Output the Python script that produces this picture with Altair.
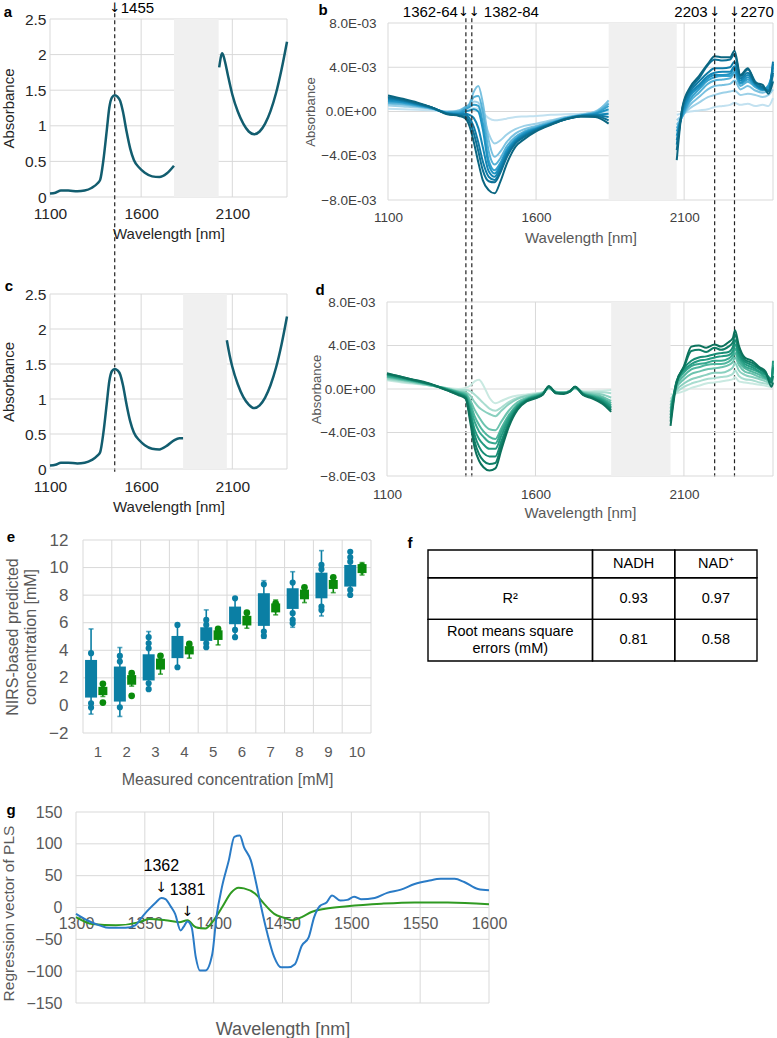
import altair as alt
import pandas as pd

W, H = 777, 1038
FONT = "Liberation Sans"
ARROW_FONT = "DejaVu Sans"
GRID = "#d9d9d9"
SHADE = "#f0f0f0"
INK = "#262626"
MUTED = "#595959"

# ---------------------------------------------------------------- a : NADH absorbance
a_nm_1 = [1100, 1130, 1160, 1200, 1250, 1290, 1330, 1360, 1375, 1393, 1412, 1425, 1440, 1455,
          1470, 1485, 1500, 1520, 1540, 1560, 1590, 1620, 1660, 1700, 1740, 1780]
a_abs_1 = [0.05, 0.06, 0.09, 0.09, 0.08, 0.09, 0.13, 0.19, 0.24, 0.52, 0.95, 1.25, 1.40, 1.43,
           1.41, 1.35, 1.20, 0.92, 0.68, 0.52, 0.41, 0.34, 0.29, 0.28, 0.33, 0.44]
a_nm_2 = [2028, 2045, 2060, 2075, 2100, 2130, 2160, 2190, 2220, 2250, 2280, 2310, 2340, 2370, 2400]
a_abs_2 = [1.82, 2.02, 1.90, 1.72, 1.44, 1.20, 1.03, 0.92, 0.88, 0.92, 1.03, 1.21, 1.46, 1.79, 2.18]
a_masked = [1780, 2025]

# ---------------------------------------------------------------- c : NAD+ absorbance
c_nm_1 = [1100, 1130, 1160, 1200, 1250, 1290, 1330, 1360, 1375, 1393, 1412, 1425, 1440, 1455,
          1470, 1485, 1500, 1520, 1540, 1560, 1590, 1620, 1660, 1700, 1740, 1780, 1810, 1830]
c_abs_1 = [0.05, 0.06, 0.09, 0.09, 0.08, 0.09, 0.13, 0.19, 0.24, 0.52, 0.95, 1.25, 1.40, 1.43,
           1.41, 1.35, 1.20, 0.92, 0.68, 0.52, 0.41, 0.34, 0.29, 0.28, 0.33, 0.41, 0.44, 0.44]
c_nm_2 = [2070, 2085, 2100, 2130, 2160, 2190, 2220, 2250, 2280, 2310, 2340, 2370, 2400]
c_abs_2 = [1.84, 1.63, 1.46, 1.21, 1.03, 0.92, 0.87, 0.91, 1.02, 1.20, 1.45, 1.78, 2.18]
c_masked = [1830, 2070]

# ---------------------------------------------------------------- b : NADH difference spectra (x1E-03), 1..10 mM per row
b_nm_1 = [1100, 1150, 1200, 1250, 1300, 1340, 1360, 1375, 1390, 1405, 1420, 1440, 1460, 1480,
          1500, 1530, 1560, 1600, 1650, 1700, 1750, 1800, 1845]
b_rows_1 = [
    [0.25, 0.55, 0.7, 0.8, 0.9, 1.0, 1.1, 1.2, 1.3, 1.45],
    [0.2, 0.45, 0.6, 0.7, 0.8, 0.85, 0.95, 1.0, 1.05, 1.15],
    [0.15, 0.35, 0.45, 0.5, 0.55, 0.6, 0.65, 0.7, 0.72, 0.8],
    [0.1, 0.2, 0.25, 0.25, 0.3, 0.3, 0.3, 0.35, 0.35, 0.35],
    [0.0, 0.0, -0.05, -0.1, -0.1, -0.15, -0.15, -0.2, -0.2, -0.25],
    [0.05, 0.1, 0.1, 0.0, -0.1, -0.2, -0.25, -0.3, -0.35, -0.4],
    [0.1, 0.3, 0.4, 0.35, 0.2, 0.0, -0.2, -0.3, -0.45, -0.6],
    [0.2, 0.5, 0.7, 0.6, 0.4, 0.1, -0.3, -0.6, -0.9, -1.3],
    [0.3, 0.9, 1.8, 1.3, 0.6, 0.2, -0.6, -1.4, -2.0, -2.8],
    [0.25, 0.8, 2.3, 1.4, 0.5, 0.0, -1.5, -2.8, -3.6, -4.6],
    [-0.1, -0.3, 0.8, 0.0, -1.0, -1.6, -3.2, -4.5, -5.3, -6.2],
    [-0.6, -2.0, -2.6, -3.6, -4.4, -4.8, -5.4, -5.9, -6.3, -7.1],
    [-0.8, -2.9, -4.1, -4.8, -5.3, -5.6, -5.9, -6.2, -6.4, -7.4],
    [-0.75, -2.6, -3.6, -4.2, -4.6, -4.8, -5.0, -5.3, -5.5, -6.3],
    [-0.65, -2.1, -2.8, -3.2, -3.5, -3.6, -3.8, -4.0, -4.2, -4.8],
    [-0.5, -1.6, -2.0, -2.3, -2.5, -2.6, -2.7, -2.8, -2.9, -3.2],
    [-0.45, -1.3, -1.6, -1.8, -1.9, -2.0, -2.1, -2.2, -2.3, -2.5],
    [-0.4, -1.1, -1.3, -1.4, -1.5, -1.55, -1.6, -1.65, -1.7, -1.8],
    [-0.3, -0.8, -0.9, -1.0, -1.05, -1.1, -1.1, -1.15, -1.15, -1.2],
    [-0.25, -0.5, -0.55, -0.6, -0.6, -0.65, -0.65, -0.7, -0.7, -0.7],
    [-0.2, -0.3, -0.3, -0.35, -0.35, -0.4, -0.4, -0.4, -0.45, -0.45],
    [-0.1, 0.0, -0.05, -0.1, -0.15, -0.2, -0.3, -0.35, -0.4, -0.5],
    [0.0, 0.8, 1.0, 0.7, 0.5, 0.2, -0.2, -0.5, -0.8, -1.1],
]
b_nm_2 = [2075, 2095, 2120, 2150, 2180, 2203, 2230, 2255, 2270, 2290, 2315, 2340, 2365, 2385, 2400]
b_rows_2 = [
    [-0.3, -0.8, -1.2, -1.5, -1.8, -2.2, -2.6, -3.0, -3.5, -4.4],
    [-0.15, -0.3, -0.4, -0.4, -0.3, -0.1, 0.1, 0.3, 0.4, 0.5],
    [0.0, 0.3, 0.6, 0.9, 1.1, 1.4, 1.6, 1.8, 2.0, 2.2],
    [0.1, 0.8, 1.3, 1.7, 2.0, 2.2, 2.4, 2.7, 3.0, 3.2],
    [0.2, 1.3, 2.0, 2.5, 2.8, 3.0, 3.2, 3.5, 4.2, 4.3],
    [0.4, 1.5, 2.3, 2.8, 3.1, 3.3, 3.5, 3.9, 4.7, 5.0],
    [0.5, 1.7, 2.4, 2.9, 3.2, 3.3, 3.6, 3.9, 4.6, 4.9],
    [0.6, 1.8, 2.5, 3.0, 3.2, 3.4, 3.6, 4.0, 4.7, 4.9],
    [0.8, 1.9, 2.8, 3.4, 3.6, 3.9, 4.1, 4.5, 5.2, 5.5],
    [0.6, 1.5, 2.0, 2.3, 2.5, 2.6, 2.8, 3.0, 3.2, 3.3],
    [0.7, 1.6, 2.3, 2.7, 2.9, 3.1, 3.3, 3.5, 3.8, 3.9],
    [0.5, 1.5, 1.9, 2.2, 2.3, 2.4, 2.5, 2.5, 2.7, 2.6],
    [0.6, 1.3, 1.7, 1.9, 2.0, 2.0, 2.0, 2.1, 2.2, 2.4],
    [0.5, 1.5, 2.0, 2.3, 2.4, 2.2, 2.0, 1.9, 1.8, 1.6],
    [1.2, 2.0, 2.8, 3.3, 3.7, 4.0, 4.3, 4.5, 3.5, 2.7],
]
b_masked = [1845, 2075]
b_colors = ["#c2e1f0", "#9dd1e8", "#79c1e0", "#55b1d7", "#35a1cd", "#1f93c2",
            "#1486b5", "#0f7ba6", "#0c7196", "#0b6681"]

# ---------------------------------------------------------------- d : NAD+ difference spectra (x1E-03), 1..10 mM per row
d_nm_1 = [1100, 1150, 1200, 1250, 1300, 1340, 1365, 1380, 1395, 1410, 1425, 1445, 1465, 1485,
          1510, 1540, 1570, 1600, 1625, 1645, 1670, 1695, 1715, 1733, 1760, 1790, 1825, 1855]
d_rows_1 = [
    [0.8, 0.9, 1.0, 1.1, 1.15, 1.2, 1.3, 1.35, 1.4, 1.45],
    [0.6, 0.7, 0.8, 0.85, 0.9, 0.95, 1.0, 1.05, 1.1, 1.1],
    [0.45, 0.5, 0.55, 0.6, 0.65, 0.7, 0.7, 0.75, 0.75, 0.8],
    [0.3, 0.3, 0.3, 0.35, 0.35, 0.4, 0.4, 0.4, 0.4, 0.45],
    [0.1, 0.1, 0.05, 0.05, 0.0, 0.0, -0.05, -0.05, -0.1, -0.1],
    [0.0, -0.1, -0.2, -0.25, -0.3, -0.35, -0.4, -0.45, -0.5, -0.55],
    [0.1, -0.1, -0.3, -0.4, -0.5, -0.6, -0.7, -0.75, -0.8, -0.9],
    [0.3, -0.2, -0.6, -1.0, -1.3, -1.6, -2.0, -2.3, -2.6, -3.0],
    [0.7, -0.5, -1.2, -1.9, -2.5, -3.0, -3.7, -4.2, -4.8, -5.4],
    [0.85, -0.9, -1.7, -2.6, -3.3, -3.9, -4.6, -5.3, -6.0, -6.6],
    [0.3, -1.3, -2.0, -3.2, -3.9, -4.4, -5.1, -5.9, -6.6, -7.2],
    [-0.8, -1.8, -2.3, -3.7, -4.4, -4.9, -5.5, -6.2, -6.9, -7.5],
    [-1.3, -2.0, -2.5, -3.8, -4.6, -5.0, -5.5, -6.2, -6.8, -7.3],
    [-1.1, -1.7, -2.0, -3.0, -3.6, -3.9, -4.3, -4.8, -5.2, -5.6],
    [-0.8, -1.2, -1.4, -2.0, -2.4, -2.6, -2.8, -3.1, -3.3, -3.5],
    [-0.6, -0.8, -0.9, -1.2, -1.4, -1.5, -1.6, -1.7, -1.8, -1.9],
    [-0.5, -0.6, -0.65, -0.8, -0.9, -0.95, -1.0, -1.05, -1.1, -1.15],
    [-0.4, -0.45, -0.5, -0.55, -0.6, -0.65, -0.7, -0.75, -0.8, -0.85],
    [-0.3, -0.3, -0.35, -0.35, -0.4, -0.4, -0.45, -0.45, -0.5, -0.5],
    [0.0, 0.05, 0.1, 0.1, 0.15, 0.15, 0.2, 0.2, 0.25, 0.25],
    [-0.25, -0.25, -0.3, -0.3, -0.3, -0.35, -0.35, -0.35, -0.4, -0.4],
    [-0.3, -0.3, -0.3, -0.35, -0.35, -0.35, -0.4, -0.4, -0.4, -0.45],
    [-0.2, -0.2, -0.2, -0.2, -0.2, -0.2, -0.25, -0.25, -0.25, -0.25],
    [0.0, 0.05, 0.1, 0.1, 0.15, 0.15, 0.15, 0.2, 0.2, 0.2],
    [-0.2, -0.25, -0.3, -0.35, -0.4, -0.4, -0.45, -0.5, -0.5, -0.55],
    [-0.2, -0.3, -0.4, -0.5, -0.6, -0.65, -0.7, -0.75, -0.8, -0.85],
    [-0.15, -0.3, -0.5, -0.7, -0.85, -0.95, -1.05, -1.15, -1.25, -1.35],
    [-0.1, -0.4, -0.8, -1.1, -1.3, -1.5, -1.65, -1.8, -1.95, -2.1],
]
d_nm_2 = [2055, 2075, 2100, 2125, 2150, 2175, 2203, 2225, 2250, 2265, 2272, 2285, 2305, 2330,
          2355, 2375, 2395, 2400]
d_rows_2 = [
    [-0.5, -0.9, -1.2, -1.5, -1.8, -2.1, -2.4, -2.7, -3.0, -3.4],
    [-0.4, -0.3, -0.1, 0.1, 0.3, 0.5, 0.6, 0.7, 0.6, 0.5],
    [-0.2, 0.2, 0.5, 0.9, 1.2, 1.5, 1.7, 1.9, 2.0, 2.1],
    [0.1, 0.5, 0.9, 1.4, 1.8, 2.1, 2.3, 2.6, 3.5, 3.9],
    [0.3, 0.7, 1.1, 1.6, 2.0, 2.3, 2.6, 2.9, 3.6, 4.0],
    [0.5, 0.9, 1.3, 1.8, 2.2, 2.4, 2.7, 3.0, 3.4, 3.8],
    [0.6, 1.0, 1.5, 1.9, 2.3, 2.6, 2.9, 3.2, 3.8, 4.1],
    [0.7, 1.1, 1.5, 2.0, 2.3, 2.6, 3.0, 3.3, 3.6, 3.9],
    [0.8, 1.2, 1.7, 2.2, 2.5, 2.8, 3.1, 3.4, 3.9, 4.3],
    [0.9, 1.4, 2.0, 2.5, 2.9, 3.2, 3.5, 3.9, 4.3, 4.7],
    [1.1, 1.7, 2.4, 2.9, 3.3, 3.7, 4.1, 4.5, 5.0, 5.4],
    [0.7, 1.2, 1.7, 2.2, 2.5, 2.8, 3.1, 3.4, 3.8, 4.0],
    [0.6, 0.9, 1.3, 1.6, 1.9, 2.1, 2.3, 2.5, 2.7, 2.9],
    [0.5, 0.8, 1.1, 1.4, 1.6, 1.8, 2.0, 2.2, 2.4, 2.6],
    [0.4, 0.6, 0.9, 1.1, 1.3, 1.5, 1.6, 1.8, 1.9, 2.0],
    [0.3, 0.5, 0.7, 0.9, 1.0, 1.1, 1.3, 1.4, 1.5, 1.6],
    [0.2, 0.4, 0.5, 0.6, 0.7, 0.8, 0.9, 0.9, 0.6, 0.2],
    [0.5, 0.9, 1.2, 1.6, 1.9, 2.2, 2.6, 2.0, 1.2, 0.6],
]
d_masked = [1855, 2055]
d_colors = ["#c9e9e1", "#a9ddd0", "#8ad0bf", "#6bc3ae", "#4fb69e", "#37a88f",
            "#249b81", "#178d74", "#107f67", "#0c725c"]

# ---------------------------------------------------------------- e : predicted vs measured (mM)
e_conc = [1, 2, 3, 4, 5, 6, 7, 8, 9, 10]
nadh_q1 = [0.57, 0.28, 1.81, 3.43, 4.68, 5.89, 5.77, 7.00, 7.77, 8.62]
nadh_q3 = [3.30, 2.82, 3.71, 5.04, 5.67, 7.17, 8.14, 8.50, 9.63, 10.19]
nadh_lo = [-0.63, -0.80, 1.13, 2.77, 4.15, 4.95, 4.87, 5.67, 6.49, 8.01]
nadh_hi = [5.55, 4.20, 5.36, 5.84, 6.93, 7.77, 9.05, 9.70, 11.23, 11.15]
nadh_pts = [[3.79, 0.16, -0.15], [3.59, 3.18, -0.13], [4.95, 4.51, 4.15, 1.61, 1.18],
            [5.84, 2.77], [6.2, 5.84, 4.51, 4.22], [7.77, 5.48, 4.95], [8.79, 5.36, 5.04],
            [8.91, 6.69, 6.2, 5.96], [10.19, 9.87, 7.17, 6.93], [11.15, 10.74, 10.43, 8.38, 8.01]]
nad_q1 = [0.75, 1.50, 2.60, 3.70, 4.75, 5.80, 6.75, 7.70, 8.45, 9.60]
nad_q3 = [1.35, 2.20, 3.40, 4.30, 5.45, 6.50, 7.40, 8.40, 9.10, 10.25]
nad_lo = [0.65, 1.40, 2.27, 3.43, 4.39, 5.60, 6.57, 7.46, 8.18, 9.46]
nad_hi = [1.55, 2.34, 3.71, 4.46, 5.55, 6.73, 7.65, 8.57, 9.29, 10.36]
nad_pts = [[1.57, 1.1, 0.21], [2.34, 1.9, 0.70], [3.6, 3.0], [4.46, 4.0], [5.55, 5.1],
           [6.73, 6.2], [7.4, 7.0], [8.57, 8.1], [9.29, 8.8], [10.1, 9.8]]

# ---------------------------------------------------------------- f : model statistics
f_rows = ["", "R²", "Root means square\nerrors (mM)"]
f_nadh = ["NADH", "0.93", "0.81"]
f_nad = ["NAD⁺", "0.97", "0.58"]

# ---------------------------------------------------------------- g : PLS regression vectors
g_nm_nadh = [1300, 1308, 1317, 1324, 1336, 1343, 1348, 1352, 1358, 1362, 1365, 1369, 1372, 1376,
             1378, 1381, 1384, 1387, 1390, 1394, 1399, 1402, 1406, 1411, 1415, 1419, 1422, 1427,
             1431, 1434, 1439, 1444, 1449, 1454, 1459, 1464, 1469, 1473, 1477, 1482, 1486, 1492,
             1497, 1502, 1507, 1517, 1526, 1536, 1546, 1556, 1565, 1575, 1582, 1592, 1600]
g_nadh = [-10, -20, -28, -32, -32, -28, -15, -5, 8, 15, 13, 1, -10, -36, -31, -22, -31, -78,
          -99, -99, -73, -15, 32, 74, 111, 113, 95, 74, 37, 6, -41, -78, -94, -94, -89, -60,
          -47, -15, 2, 8, 19, 11, 12, 17, 13, 15, 23, 28, 37, 42, 45, 45, 40, 29, 27]
g_nm_nad = [1300, 1312, 1329, 1346, 1353, 1365, 1375, 1381, 1387, 1394, 1399, 1406, 1413, 1418,
            1422, 1430, 1437, 1444, 1451, 1457, 1464, 1471, 1481, 1497, 1522, 1546, 1570, 1600]
g_nad = [-15, -26, -28, -23, -18, -20, -23, -20, -31, -33, -23, 0, 24, 31, 30, 22, 5, -10,
         -16, -20, -15, -7, -2, 2, 6, 8, 8, 5]


# ================================================================ helpers
def axis(**kw):
    base = dict(grid=False, ticks=False, domain=False, labelOverlap=False, labelFlush=False,
                labelFont=FONT, titleFont=FONT, titleFontWeight="normal")
    base.update(kw)
    return alt.Axis(**base)


def lin(domain, rng):
    return alt.Scale(domain=domain, range=rng, nice=False, zero=False)


def grid_frame(x_ticks, y_ticks, xb, yb):
    rows = [dict(x=xb[0], x2=xb[1], y=v, y2=v) for v in y_ticks]
    rows += [dict(x=v, x2=v, y=yb[0], y2=yb[1]) for v in x_ticks]
    return pd.DataFrame(rows)


def spectra_frame(parts):
    recs = []
    for seg, (nms, rows) in enumerate(parts):
        for nm, row in zip(nms, rows):
            for k, v in enumerate(row, start=1):
                recs.append({"nm": nm, "v": v, "conc": k, "seg": f"{k}-{seg}"})
    return pd.DataFrame(recs).sort_values(["conc", "seg", "nm"])


def single_frame(parts):
    recs = []
    for seg, (nms, vals) in enumerate(parts):
        recs += [{"nm": n, "v": v, "seg": seg} for n, v in zip(nms, vals)]
    return pd.DataFrame(recs)


def spectrum_panel(lines, xs, ys, ax_x, ax_y, xb, yb, x_ticks, y_ticks, masked,
                   line_mark, color=None, dashes=None, notes=(), note_y=None):
    X = lambda f: alt.X(f, type="quantitative", scale=xs, axis=ax_x)
    Y = lambda f: alt.Y(f, type="quantitative", scale=ys, axis=ax_y)
    layers = [
        alt.Chart(grid_frame(x_ticks, y_ticks, xb, yb)).mark_rule(color=GRID, strokeWidth=1)
        .encode(x=X("x"), x2="x2", y=Y("y"), y2="y2"),
        alt.Chart(pd.DataFrame([dict(x=masked[0], x2=masked[1], y=yb[0], y2=yb[1])]))
        .mark_rect(color=SHADE).encode(x=X("x"), x2="x2", y=Y("y"), y2="y2"),
    ]
    enc = dict(x=X("nm"), y=Y("v"), detail="seg:N")
    if color is not None:
        enc["color"] = color
    layers.append(alt.Chart(lines).mark_line(**line_mark).encode(**enc))
    if dashes is not None:
        layers.append(
            alt.Chart(pd.DataFrame({"x": dashes[0], "y": dashes[1], "y2": dashes[2]}))
            .mark_rule(color="#222222", strokeWidth=1.2, strokeDash=[4, 3])
            .encode(x=X("x"), y=Y("y"), y2="y2"))
    for text, nm, align, dx in notes:
        arrow = "↓" in text
        layers.append(
            alt.Chart(pd.DataFrame({"x": [nm], "y": [note_y], "t": [text]}))
            .mark_text(align=align, dx=dx, baseline="middle",
                       font=ARROW_FONT if arrow else FONT, fontSize=13 if arrow else 15,
                       color="black")
            .encode(x=X("x"), y=Y("y"), text="t:N"))
    return alt.layer(*layers)


# ================================================================ panel a
xs_a = lin([1100, 2400], [50, 287])
ys_a = lin([0, 2.5], [197, 19])
ax_a_x = axis(orient="bottom", offset=197 - H, values=[1100, 1600, 2100], format="d",
              title="Wavelength [nm]", labelFontSize=15.5, titleFontSize=15, labelColor=INK,
              titleColor=INK, labelPadding=9, titlePadding=5)
ax_a_y = axis(orient="left", offset=-50, values=[0, 0.5, 1, 1.5, 2, 2.5], format="~g",
              title="Absorbance", labelFontSize=15.5, titleFontSize=15, labelColor=INK,
              titleColor=INK, labelPadding=4, titlePadding=8)
panel_a = spectrum_panel(
    single_frame([(a_nm_1, a_abs_1), (a_nm_2, a_abs_2)]), xs_a, ys_a, ax_a_x, ax_a_y,
    [1100, 2400], [0, 2.5], [1100, 1600, 2100, 2400], [0, 0.5, 1, 1.5, 2, 2.5], a_masked,
    dict(color="#125d6f", strokeWidth=2.5, interpolate="monotone"),
    dashes=([1455], [2.58], [-3.86]),
    notes=[("↓", 1455, "center", 0), ("1455", 1455, "left", 6)], note_y=2.65)

# ================================================================ panel c
xs_c = lin([1100, 2400], [50, 287])
ys_c = lin([0, 2.5], [469, 294])
ax_c_x = axis(orient="bottom", offset=469 - H, values=[1100, 1600, 2100], format="d",
              title="Wavelength [nm]", labelFontSize=15.5, titleFontSize=15, labelColor=INK,
              titleColor=INK, labelPadding=10, titlePadding=5)
ax_c_y = axis(orient="left", offset=-50, values=[0, 0.5, 1, 1.5, 2, 2.5], format="~g",
              title="Absorbance", labelFontSize=15.5, titleFontSize=15, labelColor=INK,
              titleColor=INK, labelPadding=4, titlePadding=8)
panel_c = spectrum_panel(
    single_frame([(c_nm_1, c_abs_1), (c_nm_2, c_abs_2)]), xs_c, ys_c, ax_c_x, ax_c_y,
    [1100, 2400], [0, 2.5], [1100, 1600, 2100, 2400], [0, 0.5, 1, 1.5, 2, 2.5], c_masked,
    dict(color="#125d6f", strokeWidth=2.5, interpolate="monotone"))

# ================================================================ panels b, d
E_LABEL = "datum.value == 0 ? '0.0E+00' : format(datum.value, '.1f') + 'E-03'"
diff_ticks = [-8, -4, 0, 4, 8]


def diff_axes(bottom, left, pad_x, title_pad_x, title_pad_y):
    ax_x = axis(orient="bottom", offset=bottom - H, values=[1100, 1600, 2100], format="d",
                title="Wavelength [nm]", labelFontSize=13.5, titleFontSize=15,
                labelColor="#404040", titleColor=MUTED, labelPadding=pad_x,
                titlePadding=title_pad_x)
    ax_y = axis(orient="left", offset=-left, values=diff_ticks, labelExpr=E_LABEL,
                title="Absorbance", labelFontSize=13.5, titleFontSize=13, labelColor="#404040",
                titleColor=MUTED, labelPadding=12, titlePadding=title_pad_y)
    return ax_x, ax_y


xs_b = lin([1100, 2400], [388, 773])
ys_b = lin([-8, 8], [200, 23])
ax_b_x, ax_b_y = diff_axes(200, 388, 10, 7, 3)
panel_b = spectrum_panel(
    spectra_frame([(b_nm_1, b_rows_1), (b_nm_2, b_rows_2)]), xs_b, ys_b, ax_b_x, ax_b_y,
    [1100, 2400], [-8, 8], [1100, 1600, 2100, 2400], diff_ticks, b_masked,
    dict(strokeWidth=2, interpolate="monotone"),
    color=alt.Color("conc:O", scale=alt.Scale(domain=e_conc, range=b_colors), legend=None),
    dashes=([1363, 1383, 2203, 2270], [8.42] * 4, [-33.0] * 4),
    notes=[("↓↓", 1373, "center", 0),
           ("1362-64", 1363, "right", -8), ("1382-84", 1383, "left", 12),
           ("2203", 2203, "right", -7), ("↓", 2203, "center", 0),
           ("↓", 2270, "center", 0), ("2270", 2270, "left", 6)],
    note_y=8.96)

xs_d = lin([1100, 2400], [387, 773])
ys_d = lin([-8, 8], [476, 302])
ax_d_x, ax_d_y = diff_axes(476, 387, 11, 5, -4)
panel_d = spectrum_panel(
    spectra_frame([(d_nm_1, d_rows_1), (d_nm_2, d_rows_2)]), xs_d, ys_d, ax_d_x, ax_d_y,
    [1100, 2400], [-8, 8], [1100, 1600, 2100, 2400], diff_ticks, d_masked,
    dict(strokeWidth=2, interpolate="monotone"),
    color=alt.Color("conc:O", scale=alt.Scale(domain=e_conc, range=d_colors), legend=None))

# ================================================================ panel e
xs_e = lin([0.5, 10.5], [78, 376])
ys_e = lin([-2, 12], [733, 540])
ax_e_x = axis(orient="bottom", offset=733 - H, values=e_conc, format="d",
              title="Measured concentration [mM]", labelFontSize=15, titleFontSize=16,
              labelColor=MUTED, titleColor=MUTED, labelPadding=11, titlePadding=12)
ax_e_y = axis(orient="left", offset=-78, values=list(range(-2, 13, 2)), format="d",
              title=["NIRS-based predicted", "concentration [mM]"], labelFontSize=17,
              titleFontSize=16, labelColor=MUTED, titleColor=MUTED, labelPadding=10,
              titlePadding=10)
XE = lambda f: alt.X(f, type="quantitative", scale=xs_e, axis=ax_e_x)
YE = lambda f: alt.Y(f, type="quantitative", scale=ys_e, axis=ax_e_y)

e_layers = [
    alt.Chart(grid_frame([c - 0.5 for c in e_conc] + [10.5], list(range(-2, 13, 2)),
                         [0.5, 10.5], [-2, 12]))
    .mark_rule(color=GRID, strokeWidth=1).encode(x=XE("x"), x2="x2", y=YE("y"), y2="y2")
]
series = [
    ("NADH", nadh_q1, nadh_q3, nadh_lo, nadh_hi, nadh_pts, "#0b7fa4", -0.22, 12, 38),
    ("NAD+", nad_q1, nad_q3, nad_lo, nad_hi, nad_pts, "#0a8a0c", 0.19, 9, 45),
]
for name, q1, q3, lo, hi, pts, col, shift, bw, dot in series:
    stats = pd.DataFrame({"conc": e_conc, "q1": q1, "q3": q3, "lo": lo, "hi": hi})
    dots = pd.DataFrame([{"conc": c, "v": v} for c, vs in zip(e_conc, pts) for v in vs])
    pos = f"datum.conc + ({shift})"
    e_layers += [
        alt.Chart(stats).transform_calculate(xpos=pos).mark_rule(color=col, strokeWidth=1.6)
        .encode(x=XE("xpos"), y=YE("lo"), y2="hi"),
        alt.Chart(stats).transform_calculate(xpos=pos).transform_fold(["lo", "hi"], as_=["end", "v"])
        .mark_tick(color=col, orient="horizontal", size=5, thickness=1.6)
        .encode(x=XE("xpos"), y=YE("v")),
        alt.Chart(stats).transform_calculate(xpos=pos).mark_bar(color=col, size=bw)
        .encode(x=XE("xpos"), y=YE("q1"), y2="q3"),
        alt.Chart(dots).transform_calculate(xpos=pos).mark_circle(color=col, size=dot, opacity=1)
        .encode(x=XE("xpos"), y=YE("v")),
    ]
panel_e = alt.layer(*e_layers)

# ================================================================ panel f (table)
xs_f = lin([0, 4], [428, 757])
ys_f = lin([0, 8], [550, 661])
col_edges = [(0, 2), (2, 3), (3, 4)]
row_edges = [(0, 2), (2, 5), (5, 8)]
cells = []
for r, (y0, y1) in enumerate(row_edges):
    for k, (x0, x1) in enumerate(col_edges):
        text = [f_rows, f_nadh, f_nad][k][r]
        cells.append(dict(x=x0, x2=x1, y=y0, y2=y1, cx=(x0 + x1) / 2, cy=(y0 + y1) / 2,
                          t=text, lines=text.count("\n") + 1))
cells = pd.DataFrame(cells)
XF = lambda f: alt.X(f, type="quantitative", scale=xs_f, axis=None)
YF = lambda f: alt.Y(f, type="quantitative", scale=ys_f, axis=None)
LINE_H = 17
f_layers = [
    alt.Chart(cells).mark_rect(fillOpacity=0, stroke="black", strokeWidth=1.4)
    .encode(x=XF("x"), x2="x2", y=YF("y"), y2="y2"),
]
for n in sorted(cells["lines"].unique()):
    f_layers.append(
        alt.Chart(cells[cells["lines"] == n])
        .mark_text(font=FONT, fontSize=14.5, color="black", lineBreak="\n", baseline="middle",
                   lineHeight=LINE_H, dy=-(int(n) - 1) * LINE_H / 2)
        .encode(x=XF("cx"), y=YF("cy"), text="t:N"))
panel_f = alt.layer(*f_layers)

# ================================================================ panel g
xs_g = lin([1300, 1600], [76, 489])
ys_g = lin([-150, 150], [1003, 812])
ax_g_x = axis(orient="bottom", offset=907 - H, values=list(range(1300, 1601, 50)), format="d",
              title="Wavelength [nm]", labelFontSize=16, titleFontSize=18, labelColor=MUTED,
              titleColor=MUTED, labelPadding=8, titleY=113)
ax_g_y = axis(orient="left", offset=-76, values=list(range(-150, 151, 50)), format="d",
              title="Regression vector of PLS", labelFontSize=16, titleFontSize=15.5,
              labelColor=MUTED, titleColor=MUTED, labelPadding=14, titlePadding=9, titleY=913)
XG = lambda f: alt.X(f, type="quantitative", scale=xs_g, axis=ax_g_x)
YG = lambda f: alt.Y(f, type="quantitative", scale=ys_g, axis=ax_g_y)
g_labels = pd.DataFrame({"x": [1362, 1381], "y": [65, 27], "t": ["1362", "1381"]})
g_arrows = pd.DataFrame({"x": [1362, 1381], "y": [30, -7], "t": ["↓", "↓"]})
panel_g = alt.layer(
    alt.Chart(grid_frame(list(range(1300, 1601, 50)), list(range(-150, 151, 50)),
                         [1300, 1600], [-150, 150]))
    .mark_rule(color=GRID, strokeWidth=1).encode(x=XG("x"), x2="x2", y=YG("y"), y2="y2"),
    alt.Chart(pd.DataFrame({"nm": g_nm_nad, "v": g_nad})).mark_line(
        color="#2f9a22", strokeWidth=2, interpolate="monotone").encode(x=XG("nm"), y=YG("v")),
    alt.Chart(pd.DataFrame({"nm": g_nm_nadh, "v": g_nadh})).mark_line(
        color="#2a7bc6", strokeWidth=2, interpolate="monotone").encode(x=XG("nm"), y=YG("v")),
    alt.Chart(g_labels).mark_text(font=FONT, fontSize=16, color="black", baseline="middle")
    .encode(x=XG("x"), y=YG("y"), text="t:N"),
    alt.Chart(g_arrows).mark_text(font=ARROW_FONT, fontSize=14, color="black", baseline="middle")
    .encode(x=XG("x"), y=YG("y"), text="t:N"),
)

# ================================================================ panel letters
letters = []
for letter, px, py in [("a", 8, 12), ("b", 323, 10), ("c", 9, 286), ("d", 320, 290),
                       ("e", 11, 537), ("f", 410, 543), ("g", 11, 810)]:
    letters.append(
        alt.Chart(pd.DataFrame({"t": [letter]}))
        .mark_text(font=FONT, fontSize=15, fontWeight="bold", color="black", baseline="middle")
        .encode(x=alt.value(px), y=alt.value(py), text="t:N"))

chart = (
    alt.layer(panel_a, panel_b, panel_c, panel_d, panel_e, panel_f, panel_g, *letters)
    .resolve_scale(x="independent", y="independent", color="independent")
    .properties(width=W, height=H, padding=0, autosize=alt.AutoSizeParams(type="none"))
    .configure_view(strokeWidth=0)
)

chart.save("out.html", embed_options={"renderer": "svg", "actions": False})
